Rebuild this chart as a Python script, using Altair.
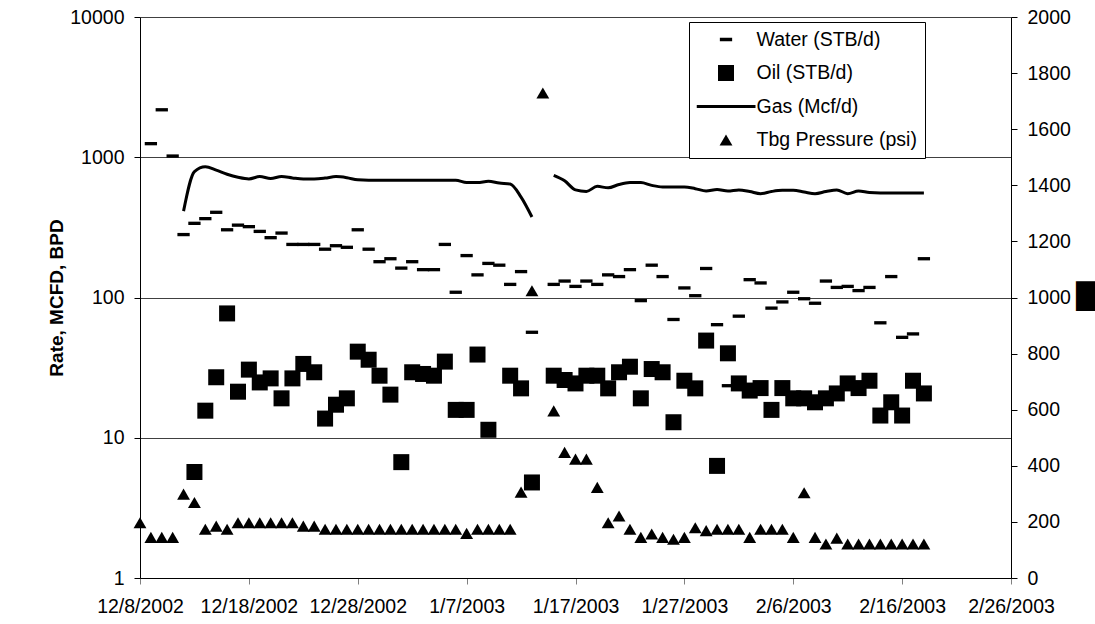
import altair as alt
import pandas as pd

START = "2002-12-08"

# x-axis tick labels (every 10 days)
x_tick_labels = ["12/8/2002", "12/18/2002", "12/28/2002", "1/7/2003", "1/17/2003",
                 "1/27/2003", "2/6/2003", "2/16/2003", "2/26/2003"]
left_ticks = [1, 10, 100, 1000, 10000]
right_ticks = [0, 200, 400, 600, 800, 1000, 1200, 1400, 1600, 1800, 2000]

series_names = ["Water (STB/d)", "Oil (STB/d)", "Gas (Mcf/d)", "Tbg Pressure (psi)"]

# Water (STB/d): day offset from 12/8/2002, value
water_days = [1, 2, 3, 4, 5, 6, 7, 8, 9, 10, 11, 12, 13, 14, 15, 16, 17, 18, 19, 20,
              21, 22, 23, 24, 25, 26, 27, 28, 29, 30, 31, 32, 33, 34, 35, 36,
              38, 39, 40, 41, 42, 43, 44, 45, 46, 47, 48, 49, 50, 51, 52, 53, 54, 55,
              56, 57, 58, 59, 60, 61, 62, 63, 64, 65, 66, 67, 68, 69, 70, 71, 72]
water_vals = [1250, 2180, 1020, 281, 338, 365, 405, 304, 328, 320, 296, 267, 288, 239, 239, 239, 221, 234, 228, 304,
              221, 180, 189, 162, 180, 158, 158, 239, 109, 199, 145, 175, 170, 124, 153, 56.5,
              124, 131, 120, 131, 124, 145, 141, 158, 95, 170, 141, 69.7, 117, 103, 161, 64, 23.5, 73.6,
              134, 127, 84, 93, 109, 98, 91, 131, 118, 120, 112, 118, 66, 141, 52, 55, 189]

# Oil (STB/d)
oil_days = [5, 6, 7, 8, 9, 10, 11, 12, 13, 14, 15, 16, 17, 18, 19, 20, 21, 22, 23, 24,
            25, 26, 27, 28, 29, 30, 31, 32, 34, 35, 36,
            38, 39, 40, 41, 42, 43, 44, 45, 46, 47, 48, 49, 50, 51, 52, 53, 54, 55,
            56, 57, 58, 59, 60, 61, 62, 63, 64, 65, 66, 67, 68, 69, 70, 71, 72]
oil_vals = [5.7, 15.6, 27, 77, 21.3, 30.6, 24.8, 26.5, 19.1, 26.5, 33.6, 29.3, 13.7, 17.2, 19.1, 41.1, 36, 27.7, 20.3, 6.7,
            29.3, 28.5, 27.7, 34.9, 15.8, 15.8, 39.2, 11.4, 27.7, 22.5, 4.8,
            27.7, 25.8, 24.4, 27.7, 27.7, 22.5, 29.3, 32.1, 19.1, 30.9, 29.3, 12.9, 25.5, 22.5, 49.3, 6.3, 40, 24.4,
            21.7, 22.6, 15.8, 22.6, 19.1, 19.1, 17.9, 19.1, 20.7, 24.4, 22.6, 25.5, 14.4, 17.9, 14.4, 25.5, 20.7]

# Gas (Mcf/d), two segments
gas1_days = list(range(4, 37))
gas1_vals = [413, 790, 855, 810, 757, 720, 700, 728, 705, 728, 712, 700, 700, 710, 728, 715, 690,
             685, 685, 685, 685, 685, 685, 685, 685, 685, 660, 660, 674, 655, 645, 520, 375]
gas2_days = list(range(38, 73))
gas2_vals = [744, 680, 585, 571, 620, 605, 640, 660, 660, 630, 614, 614, 614, 597, 575, 590, 575, 585,
             570, 550, 570, 581, 581, 565, 550, 570, 585, 550, 575, 560, 556, 556, 556, 556, 556]

# Tubing pressure (psi), right axis
tbg_days = list(range(0, 73))
tbg_vals = [197, 145, 145, 145, 299, 269, 174, 185, 174, 197, 197, 197, 197, 197, 197, 185, 185,
            174, 174, 174, 174, 174, 174, 174, 174, 174, 174, 174, 174, 174, 159, 174, 174, 174, 174,
            306, 1024, 1729, 596, 448, 424, 424, 323, 197, 221, 174, 145, 157, 145, 138, 145, 179, 169,
            174, 174, 174, 145, 174, 174, 174, 145, 304, 145, 121, 142, 121, 121, 121, 121, 121, 121, 121, 121]


def to_dates(days):
    base = pd.Timestamp(START)
    return [(base + pd.Timedelta(days=d)).strftime("%Y-%m-%dT%H:%M:%S") for d in days]


pts = pd.concat([
    pd.DataFrame({"date": to_dates(water_days), "value": water_vals, "series": series_names[0]}),
    pd.DataFrame({"date": to_dates(oil_days), "value": oil_vals, "series": series_names[1]}),
], ignore_index=True)
gas = pd.concat([
    pd.DataFrame({"date": to_dates(gas1_days), "value": gas1_vals, "seg": "a"}),
    pd.DataFrame({"date": to_dates(gas2_days), "value": gas2_vals, "seg": "b"}),
], ignore_index=True)
tbg = pd.DataFrame({"date": to_dates(tbg_days), "psi": tbg_vals, "series": series_names[3]})

tick_dt = [pd.to_datetime(s, format="%m/%d/%Y") for s in x_tick_labels]
x_values = [alt.DateTime(year=t.year, month=t.month, date=t.day) for t in tick_dt]
x_domain = [x_values[0], x_values[-1]]

FONT = "Liberation Sans"
FS = 19.5

x_enc = alt.X("date:T", scale=alt.Scale(domain=x_domain),
              axis=alt.Axis(values=x_values, format="%-m/%-d/%Y", title=None, grid=False,
                            tickSize=6, tickColor="#808080", domainColor="black",
                            labelFont=FONT, labelFontSize=FS, labelColor="black",
                            labelPadding=13, labelOverlap=False, labelFlush=False))

left_axis = alt.Axis(values=left_ticks, format="d", grid=True, gridColor="#404040", gridWidth=1,
                     domainColor="black", tickColor="black", tickSize=6,
                     labelFont=FONT, labelFontSize=FS, labelColor="black", labelPadding=10,
                     title="Rate, MCFD, BPD", titleFont=FONT, titleFontSize=19,
                     titleFontWeight="bold", titleColor="black", titlePadding=3)
y_left = alt.Y("value:Q", scale=alt.Scale(type="log", domain=[1, 10000]), axis=left_axis)

shape_range = ["M-1,-0.27H1V0.27H-1Z", "square", "M-1,-0.05H1V0.05H-1Z", "triangle-up"]
size_range = [151, 256, 3481, 165]

legend = alt.Legend(title=None, orient="none", legendX=549, legendY=5, padding=7.5,
                    strokeColor="black", fillColor="white", labelFont=FONT, labelFontSize=FS,
                    labelColor="black", labelLimit=300, labelOffset=1, rowPadding=13.5,
                    clipHeight=20,
                    symbolFillColor="black", symbolStrokeWidth=0, symbolOpacity=1)
shape_scale = alt.Scale(domain=series_names, range=shape_range)
size_scale = alt.Scale(type="ordinal", domain=series_names, range=size_range)

points = alt.Chart(pts).mark_point(filled=True, opacity=1, color="black").encode(
    x=x_enc, y=y_left,
    shape=alt.Shape("series:N", scale=shape_scale, legend=legend),
    size=alt.Size("series:N", scale=size_scale, legend=legend),
)
gas_line = alt.Chart(gas).mark_line(color="black", strokeWidth=3, interpolate="monotone").encode(
    x=x_enc, y=y_left, detail="seg:N",
)
left_layer = alt.layer(points, gas_line)

right_axis = alt.Axis(orient="right", values=right_ticks, format="d", grid=False, domainColor="black",
                      tickColor="black", tickSize=6, labelFont=FONT, labelFontSize=FS,
                      labelColor="black", labelPadding=10,
                      title="\u2588", titleFont="DejaVu Sans", titleFontSize=25, titleColor="black",
                      titleAngle=0, titleAlign="center", titleBaseline="middle",
                      titleX=74, titleY=279)
tri = alt.Chart(tbg).mark_point(filled=True, opacity=1, color="black").encode(
    x=x_enc,
    y=alt.Y("psi:Q", scale=alt.Scale(domain=[0, 2000]), axis=right_axis),
    shape=alt.Shape("series:N", scale=shape_scale, legend=legend),
    size=alt.Size("series:N", scale=size_scale, legend=legend),
)

chart = alt.layer(left_layer, tri).resolve_scale(y="independent").properties(
    width=871, height=561,
    autosize=alt.AutoSizeParams(type="none"),
    padding={"left": 140, "top": 17, "right": 84, "bottom": 46},
    background="white",
).configure_view(strokeWidth=0)

chart.save("out.html", embed_options={"renderer": "svg", "actions": False})
